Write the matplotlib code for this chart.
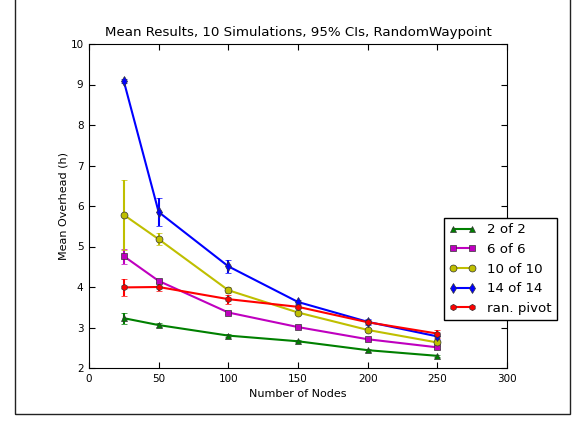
"""Mean overhead vs number of nodes, RandomWaypoint runs."""

import matplotlib

matplotlib.use("Agg")
import matplotlib.pyplot as plt
from matplotlib.patches import Rectangle

nodes = [25, 50, 100, 150, 200, 250]

labels = ["2 of 2", "6 of 6", "10 of 10", "14 of 14", "ran. pivot"]
colors = ["g", "m", "y", "b", "r"]
markers = ["^", "s", "o", "d", "h"]

mean_2of2 = [3.23, 3.06, 2.80, 2.66, 2.44, 2.30]
ci_2of2 = [0.14, 0.05, 0.03, 0.03, 0.04, 0.03]
mean_6of6 = [4.76, 4.15, 3.37, 3.01, 2.71, 2.51]
ci_6of6 = [0.18, 0.03, 0.04, 0.03, 0.03, 0.04]
mean_10of10 = [5.78, 5.18, 3.92, 3.37, 2.94, 2.63]
ci_10of10 = [0.87, 0.15, 0.08, 0.04, 0.04, 0.04]
mean_14of14 = [9.08, 5.85, 4.51, 3.63, 3.14, 2.78]
ci_14of14 = [0.05, 0.35, 0.16, 0.06, 0.07, 0.07]
mean_pivot = [3.99, 4.00, 3.70, 3.51, 3.13, 2.85]
ci_pivot = [0.20, 0.10, 0.11, 0.04, 0.05, 0.10]

means = [mean_2of2, mean_6of6, mean_10of10, mean_14of14, mean_pivot]
cis = [ci_2of2, ci_6of6, ci_10of10, ci_14of14, ci_pivot]

fig = plt.figure(figsize=(5.76, 4.21), dpi=100)
ax = fig.add_axes([89 / 576, 1 - 368 / 421, 418 / 576, 324 / 421])

handles = []
for label, color, marker, mean, ci in zip(labels, colors, markers, means, cis):
    container = ax.errorbar(
        nodes,
        mean,
        yerr=ci,
        color=color,
        ecolor=color,
        marker=marker,
        markersize=5 if marker != "h" else 4.5,
        markeredgecolor="#333333",
        markeredgewidth=0.5,
        linewidth=1.5,
        elinewidth=1.5,
        capsize=2.5,
        label=label,
    )
    # legend shows the line + marker only, not the error bars
    handles.append(container[0])

ax.set_xlim(0, 300)
ax.set_ylim(2, 10)
ax.set_xticks(range(0, 301, 50))
ax.set_yticks(range(2, 11))
ax.tick_params(direction="in", top=True, right=True, labelsize=7.5, length=4, pad=4)
ax.set_title("Mean Results, 10 Simulations, 95% CIs, RandomWaypoint", fontsize=9.6)
ax.set_xlabel("Number of Nodes", fontsize=8)
ax.set_ylabel("Mean Overhead (h)", fontsize=8, labelpad=1)

fig.legend(
    handles=handles,
    labels=labels,
    loc="upper left",
    bbox_to_anchor=(444 / 576, 1 - 218 / 421),
    bbox_transform=fig.transFigure,
    borderaxespad=0,
    fontsize=9.6,
    numpoints=2,
    fancybox=False,
    framealpha=1,
    edgecolor="black",
)

fig.patches.append(
    Rectangle(
        (14.5 / 576, 7.5 / 421),
        555 / 576,
        1.2,
        transform=fig.transFigure,
        fill=False,
        edgecolor="#222222",
        linewidth=1,
        clip_on=False,
    )
)

fig.savefig("out.png", dpi=100)
